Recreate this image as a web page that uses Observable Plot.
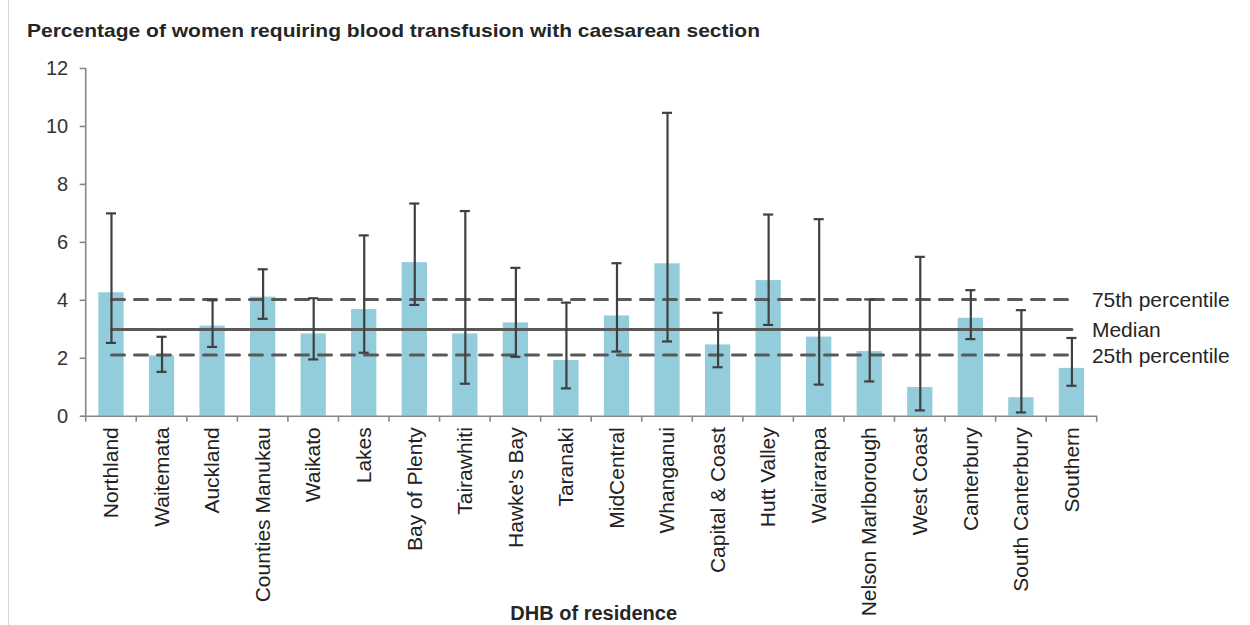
<!DOCTYPE html>
<html>
<head>
<meta charset="utf-8">
<script src="https://cdn.jsdelivr.net/npm/d3@7"></script>
<script src="https://cdn.jsdelivr.net/npm/@observablehq/plot@0.6"></script>
<style>
  html, body { margin: 0; padding: 0; background: #fff; }
  #wrap { position: relative; width: 1250px; height: 625px; overflow: hidden; font-family: 'Liberation Sans', Arial, sans-serif; }
  #border { position: absolute; left: 8px; top: 0; width: 1px; height: 625px; background: #d9d9d9; }
  #titlebox { position: relative; height: 50px; }
  #title { position: absolute; left: 26.7px; top: 21px; font: bold 19px 'Liberation Sans', Arial, sans-serif; line-height: 1; white-space: nowrap; color: #262626; transform-origin: 0 0; }
  #chart svg { display: block; }
</style>
</head>
<body>
<div id="wrap">
  <div id="border"></div>
  <div id="titlebox"><span id="title"></span></div>
  <div id="chart"></div>
</div>
<script>
const titleText = "Percentage of women requiring blood transfusion with caesarean section";
const xTitle = "DHB of residence";
const categories = ["Northland","Waitemata","Auckland","Counties Manukau","Waikato","Lakes","Bay of Plenty","Tairawhiti","Hawke's Bay","Taranaki","MidCentral","Whanganui","Capital & Coast","Hutt Valley","Wairarapa","Nelson Marlborough","West Coast","Canterbury","South Canterbury","Southern"];
const rates = [4.26,2.08,3.11,4.11,2.84,3.68,5.30,2.84,3.22,1.92,3.46,5.26,2.46,4.68,2.73,2.23,0.99,3.38,0.64,1.65];
const lower = [2.53,1.53,2.39,3.36,1.96,2.19,3.84,1.12,2.05,0.96,2.23,2.58,1.69,3.15,1.09,1.20,0.20,2.66,0.13,1.05];
const upper = [7.00,2.74,4.00,5.07,4.07,6.24,7.34,7.08,5.12,3.92,5.28,10.47,3.57,6.96,6.80,4.03,5.50,4.35,3.66,2.70];
const refNames = ["75th percentile","Median","25th percentile"];
const refValues = [4.03, 2.99, 2.11];
const yTicks = [0,2,4,6,8,10,12];

const data = categories.map((name, i) => ({name, rate: rates[i], lower: lower[i], upper: upper[i]}));
const refs = refNames.map((label, i) => ({label, value: refValues[i]}));

const title = document.getElementById("title");
title.textContent = titleText;
const tw = title.getBoundingClientRect().width;
title.style.transform = `scaleX(${733 / tw})`;

const axisGray = "#868686";
const ink = "#262626";
const errInk = "#404040";
const refInk = "#595959";

const chart = Plot.plot({
  width: 1250,
  height: 575,
  marginTop: 18,
  marginBottom: 209.3,
  marginLeft: 85.7,
  marginRight: 153.3,
  style: {fontFamily: "'Liberation Sans', Arial, sans-serif", background: "#fff", color: ink, overflow: "visible"},
  x: {domain: categories, paddingInner: 0.5, paddingOuter: 0.25, round: false, axis: null},
  y: {domain: [0, 12], axis: null},
  marks: [
    Plot.barY(data, {x: "name", y: "rate", fill: "#93CDDC"}),
    ...refs.map(r => Plot.lineY(categories, {
      x: d => d, y: () => r.value, stroke: refInk, strokeWidth: 3,
      strokeDasharray: r.label === "Median" ? null : "13,10"
    })),
    Plot.ruleX(data, {x: "name", y1: "lower", y2: "upper", stroke: errInk, strokeWidth: 2.2}),
    Plot.tickY(data, {x: "name", y: "lower", stroke: errInk, strokeWidth: 2.2, insetLeft: 7.6, insetRight: 7.6}),
    Plot.tickY(data, {x: "name", y: "upper", stroke: errInk, strokeWidth: 2.2, insetLeft: 7.6, insetRight: 7.6}),
    Plot.axisY({ticks: yTicks, tickSize: 6, tickPadding: 12, fontSize: 20, tickFormat: d => d, label: null}),
    Plot.axisX({tickSize: 0, tickPadding: 11, tickRotate: -90, fontSize: 21, label: null}),
    Plot.ruleY([0], {stroke: axisGray, strokeWidth: 1.6}),
    Plot.text(refs, {x: () => categories[categories.length - 1], y: "value", text: "label", textAnchor: "start", dx: 20, dy: 1, fontSize: 21, lineAnchor: "middle", fill: ink}),
    Plot.text([xTitle], {frameAnchor: "bottom", dx: 2, dy: 204, lineAnchor: "bottom", text: d => d, fontWeight: "bold", fontSize: 20, fill: ink})
  ]
});
document.getElementById("chart").appendChild(chart);

// axis styling and band-boundary tick marks using the plot's own scales
const xs = chart.scale("x"), ys = chart.scale("y");
const svg = d3.select(chart);
svg.selectAll('[aria-label="y-axis tick"]').attr("stroke", axisGray).attr("stroke-width", 1.6);
svg.selectAll('[aria-label="y-axis tick"] path').attr("stroke", axisGray);
svg.selectAll('[aria-label="y-axis tick label"]').attr("fill", "#333");
svg.selectAll('[aria-label="x-axis tick label"]').attr("fill", "#222");
const step = xs.apply(categories[1]) - xs.apply(categories[0]);
const bw = xs.bandwidth;
const bounds = categories.map(c => xs.apply(c) + bw / 2 - step / 2);
bounds.push(xs.apply(categories[categories.length - 1]) + bw / 2 + step / 2);
const y0 = ys.apply(0), yTop = ys.apply(12);
const g = svg.append("g").attr("stroke", axisGray).attr("stroke-width", 1.6);
g.append("line").attr("x1", bounds[0]).attr("x2", bounds[0]).attr("y1", yTop).attr("y2", y0);
g.selectAll("line.bt").data(bounds).join("line").attr("class", "bt")
  .attr("x1", d => d).attr("x2", d => d).attr("y1", y0).attr("y2", y0 + 6);
</script>
</body>
</html>
